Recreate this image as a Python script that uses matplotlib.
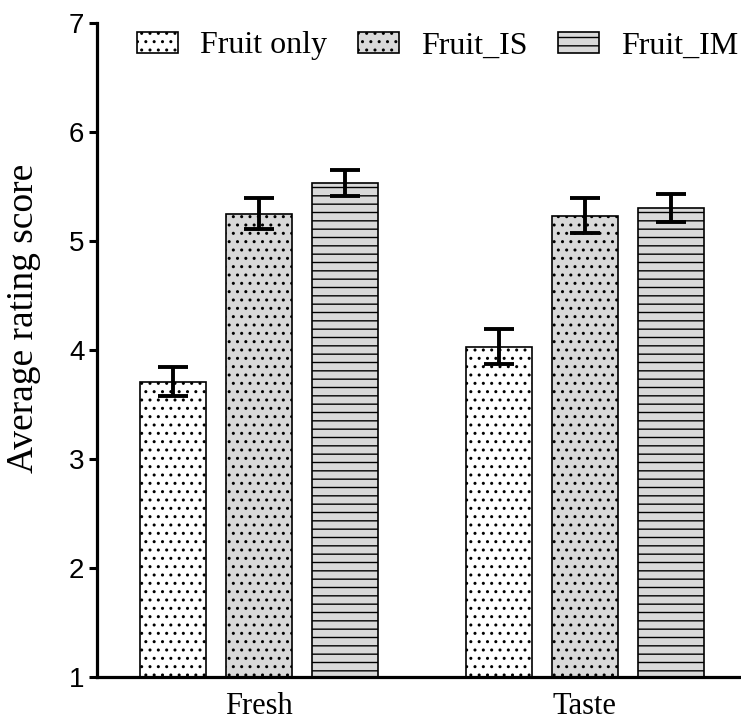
import matplotlib
matplotlib.use("Agg")
import matplotlib.pyplot as plt
import numpy as np

plt.rcParams['hatch.linewidth'] = 1.0

categories = ["Fresh", "Taste"]
series = ["Fruit only", "Fruit_IS", "Fruit_IM"]
means = {
    "Fruit only": [3.71, 4.03],
    "Fruit_IS": [5.25, 5.23],
    "Fruit_IM": [5.53, 5.30],
}
errors = {
    "Fruit only": [0.13, 0.16],
    "Fruit_IS": [0.14, 0.16],
    "Fruit_IM": [0.12, 0.13],
}
yticks = [1, 2, 3, 4, 5, 6, 7]

colors = {"Fruit only": "white", "Fruit_IS": "#d9d9d9", "Fruit_IM": "#d9d9d9"}
hatches = {"Fruit only": "..", "Fruit_IS": "..", "Fruit_IM": "--"}

fig = plt.figure(figsize=(7.41, 7.2), dpi=100)
ax = fig.add_axes([97/741, 43/720, 644/741, 654/720])

x = np.arange(len(categories))
width = 0.2025
step = 0.2638
for i, s in enumerate(series):
    pos = x + (i - 1) * step
    ax.bar(pos, np.array(means[s]) - 1, width, bottom=1, color=colors[s],
           edgecolor="black", linewidth=1.2, hatch=hatches[s], label=s, zorder=2)
    ax.errorbar(pos, means[s], yerr=errors[s], fmt="none", ecolor="black",
                elinewidth=2.8, capsize=10.5, capthick=2.8, zorder=3)

ax.set_xlim(-0.497, 1.479)
ax.set_ylim(1, 7)
ax.set_yticks(yticks)
ax.set_yticklabels([str(t) for t in yticks], fontfamily="Liberation Sans", fontsize=20)
ax.set_xticks(x)
ax.set_xticklabels(categories, fontfamily="Liberation Serif", fontsize=22)
ax.tick_params(axis="x", length=0, pad=10.5)
ax.tick_params(axis="y", length=6, width=2.2, pad=3)
for sp in ["top", "right"]:
    ax.spines[sp].set_visible(False)
for sp in ["left", "bottom"]:
    ax.spines[sp].set_linewidth(2.3)
ax.set_ylabel("Average rating score", fontfamily="Liberation Serif", fontsize=27)
ax.yaxis.set_label_coords(-0.087, 0.549)

leg = fig.legend(loc="center right", bbox_to_anchor=(1.0175, 1 - 46/720), ncol=3, frameon=False,
                 prop={"family": "Liberation Serif", "size": 23}, borderpad=0,
                 handlelength=1.28, handleheight=0.66, columnspacing=0.96, handletextpad=0.69)

fig.savefig("out.png", dpi=100)
